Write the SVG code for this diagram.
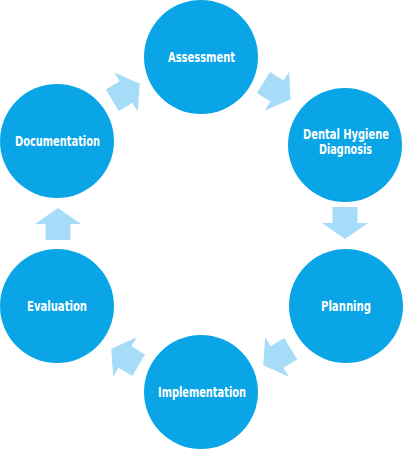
<svg xmlns="http://www.w3.org/2000/svg" width="403" height="450" viewBox="0 0 403 450">
<style>
.node{fill:#0aa5e6}
.lbl{fill:#ffffff;font-family:"DejaVu Sans Condensed","Liberation Sans",sans-serif;font-weight:bold;font-size:14px;text-anchor:middle}
.arr{fill:#a6dcf7}
</style>
<defs>
<path id="ar" d="M-16,-12.5 L0,-12.5 L0,-23 L16,0 L0,23 L0,12.5 L-16,12.5 Z"/>
</defs>
<rect width="403" height="450" fill="#ffffff"/>
<g id="connectors">
<use href="#ar" class="arr" transform="translate(126,92) rotate(-31)"/>
<use href="#ar" class="arr" transform="translate(277,91) rotate(32)"/>
<use href="#ar" class="arr" transform="translate(345,223) rotate(90)"/>
<use href="#ar" class="arr" transform="translate(277,357) rotate(149)"/>
<use href="#ar" class="arr" transform="translate(125,357) rotate(211)"/>
<use href="#ar" class="arr" transform="translate(58,224) rotate(-90)"/>
</g>
<g id="assessment"><circle class="node" cx="201" cy="57" r="57"/><text class="lbl" x="201.5" y="62" textLength="67" lengthAdjust="spacingAndGlyphs">Assessment</text></g>
<g id="diagnosis"><circle class="node" cx="345" cy="145" r="57"/><text class="lbl" x="346" y="139" textLength="86" lengthAdjust="spacingAndGlyphs">Dental Hygiene</text><text class="lbl" x="345.5" y="154" textLength="53" lengthAdjust="spacingAndGlyphs">Diagnosis</text></g>
<g id="planning"><circle class="node" cx="346" cy="306" r="57"/><text class="lbl" x="346" y="311" textLength="50" lengthAdjust="spacingAndGlyphs">Planning</text></g>
<g id="implementation"><circle class="node" cx="201" cy="392" r="57"/><text class="lbl" x="202" y="397" textLength="88" lengthAdjust="spacingAndGlyphs">Implementation</text></g>
<g id="evaluation"><circle class="node" cx="57" cy="306" r="57"/><text class="lbl" x="57" y="311" textLength="60" lengthAdjust="spacingAndGlyphs">Evaluation</text></g>
<g id="documentation"><circle class="node" cx="57" cy="141" r="57"/><text class="lbl" x="57.5" y="146" textLength="85" lengthAdjust="spacingAndGlyphs">Documentation</text></g>
</svg>
